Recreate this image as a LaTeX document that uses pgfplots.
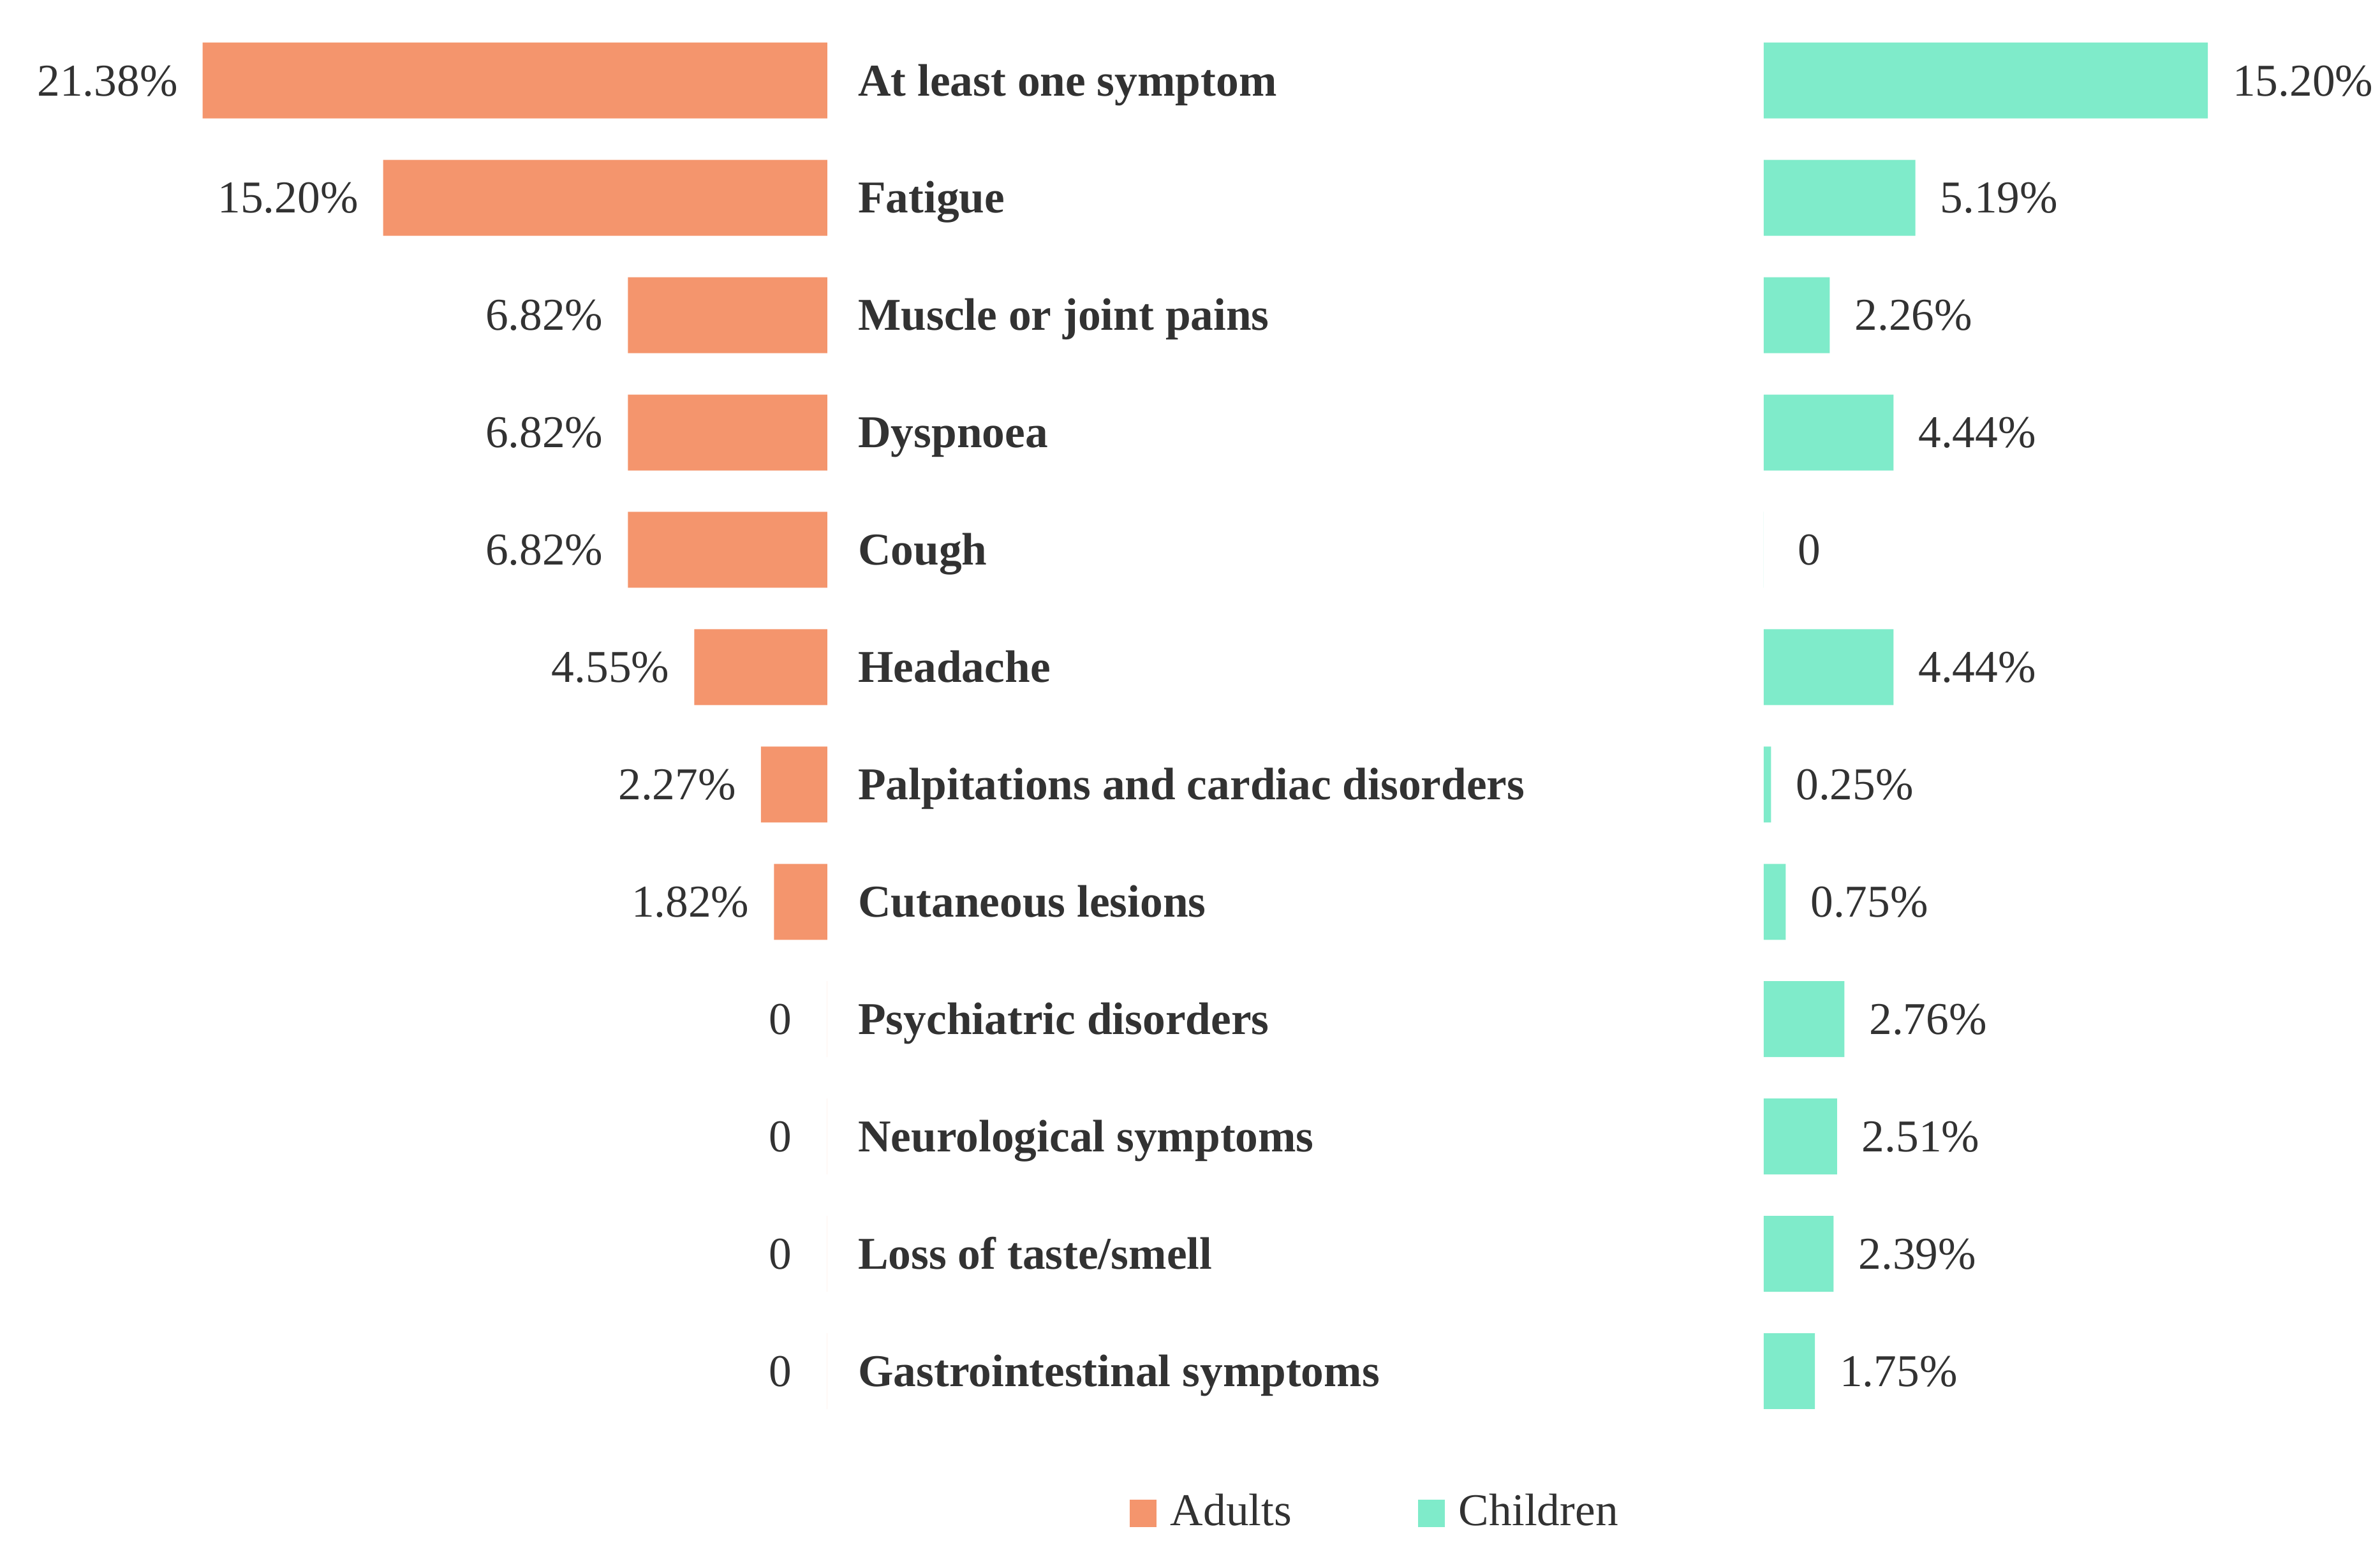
\documentclass[border=0pt]{standalone}
\usepackage{fontspec}
\setmainfont{Liberation Serif}
\usepackage{pgfplots}
\pgfplotsset{compat=1.18}
\definecolor{adult}{RGB}{244,149,109}
\definecolor{child}{RGB}{127,235,202}
\definecolor{txt}{RGB}{50,50,50}
\newcommand{\fs}{\fontsize{15bp}{18bp}\selectfont}

\pgfplotsset{
  sqleg/.style={legend image code/.code={%
    \fill[##1] (0bp,-4.5bp) rectangle (9bp,4.5bp);
    \path (11.5bp,0bp);}},
  half/.style={
    scale only axis,
    height=463.8bp,
    ymin=-0.5, ymax=11.5,
    y dir=reverse,
    xtick=\empty,
    axis line style={draw=none},
    major tick length=0pt,
    clip=false,
    tick label style={font=\fs, text=txt},
  },
}

\begin{document}
\fs
\begin{tikzpicture}
\path[use as bounding box] (0bp,0bp) rectangle (784bp,513.5bp);

% adults, bars grow to the left
\begin{axis}[half,
  at={(272.5bp,42.5bp)}, anchor=south east,
  width=211.75bp,
  xmin=0, xmax=22, x dir=reverse,
  ytick={0,...,11},
  yticklabels={At least one symptom, Fatigue, Muscle or joint pains, Dyspnoea,
    Cough, Headache, Palpitations and cardiac disorders, Cutaneous lesions,
    Psychiatric disorders, Neurological symptoms, Loss of taste/smell,
    Gastrointestinal symptoms},
  yticklabel pos=right,
  yticklabel style={anchor=base west, inner sep=0pt, xshift=10bp, yshift=-5bp, font=\fs\bfseries},
  legend style={draw=none, fill=none, font=\fs, text=txt,
    at={(1.855,-0.0593)}, anchor=center,
    legend columns=2,
    /tikz/every even column/.append style={column sep=39.5bp}},
]
\addplot[xbar, bar shift=0pt, bar width=25bp, fill=adult, draw=none, sqleg,
  nodes near coords, point meta=explicit symbolic,
  every node near coord/.append style={anchor=base east, inner sep=0pt,
    xshift=-8bp, yshift=-5bp, font=\fs, text=txt}]
coordinates {
  (21.38,0) [21.38\%]
  (15.20,1) [15.20\%]
  (6.82,2)  [6.82\%]
  (6.82,3)  [6.82\%]
  (6.82,4)  [6.82\%]
  (4.55,5)  [4.55\%]
  (2.27,6)  [2.27\%]
  (1.82,7)  [1.82\%]
  (0,8)     [0\kern3.5bp]
  (0,9)     [0\kern3.5bp]
  (0,10)    [0\kern3.5bp]
  (0,11)    [0\kern3.5bp]
};
\addlegendentry{Adults}
\addlegendimage{fill=child, draw=none, sqleg}
\addlegendentry{Children}
\end{axis}

% children, bars grow to the right
\begin{axis}[half,
  at={(581bp,42.5bp)}, anchor=south west,
  width=192.5bp,
  xmin=0, xmax=20,
  ytick=\empty,
]
\addplot[xbar, bar shift=0pt, bar width=25bp, fill=child, draw=none,
  nodes near coords, point meta=explicit symbolic,
  every node near coord/.append style={anchor=base west, inner sep=0pt,
    xshift=8bp, yshift=-5bp, font=\fs, text=txt}]
coordinates {
  (15.20,0) [15.20\%]
  (5.19,1)  [5.19\%]
  (2.26,2)  [2.26\%]
  (4.44,3)  [4.44\%]
  (0,4)     [\kern3bp 0]
  (4.44,5)  [4.44\%]
  (0.25,6)  [0.25\%]
  (0.75,7)  [0.75\%]
  (2.76,8)  [2.76\%]
  (2.51,9)  [2.51\%]
  (2.39,10) [2.39\%]
  (1.75,11) [1.75\%]
};
\end{axis}
\end{tikzpicture}
\end{document}
